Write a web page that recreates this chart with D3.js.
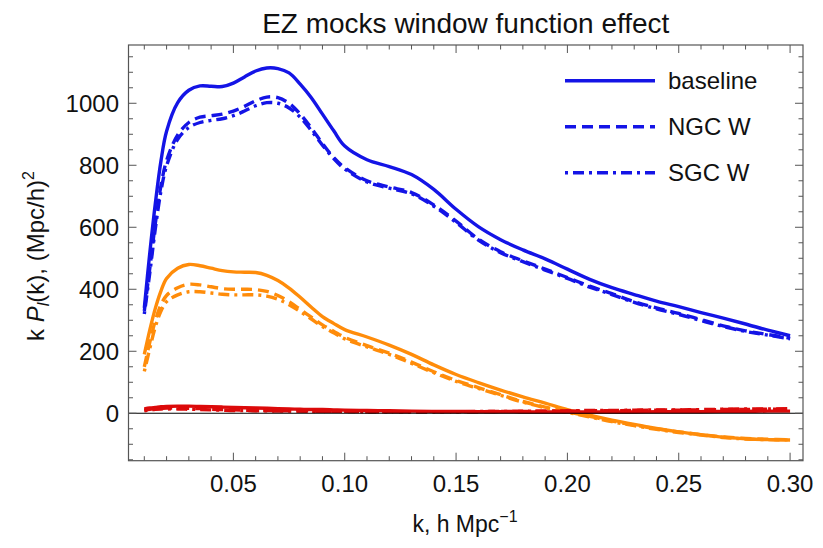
<!DOCTYPE html>
<html>
<head>
<meta charset="utf-8">
<script src="https://cdn.jsdelivr.net/npm/d3@7"></script>
<style>
  html, body { margin: 0; padding: 0; background: #fff; }
  svg { display: block; font-family: "Liberation Sans", Arial, sans-serif; }
</style>
</head>
<body>
<svg id="chart" width="823" height="548"></svg>
<script>
// Wavenumber grid, h/Mpc
const kValues = [0.01, 0.0125, 0.015, 0.0175, 0.02, 0.025, 0.03, 0.035, 0.04, 0.045,
  0.05, 0.055, 0.06, 0.065, 0.07, 0.075, 0.08, 0.085, 0.09, 0.095,
  0.10, 0.11, 0.12, 0.13, 0.14, 0.15, 0.16, 0.17, 0.18, 0.19,
  0.20, 0.21, 0.22, 0.23, 0.24, 0.25, 0.26, 0.27, 0.28, 0.29, 0.30];

// Monopole k P_0(k)
const monoBaseline = [340, 520, 680, 815, 910, 1002, 1042, 1056, 1055, 1054,
  1065, 1085, 1104, 1114, 1112, 1098, 1062, 1018, 965, 912,
  862, 818, 796, 770, 722, 658, 602, 560, 527, 498,
  465, 432, 405, 383, 362, 344, 325, 307, 288, 268, 250];
const monoNGC = [330, 470, 615, 735, 815, 898, 938, 955, 960, 965,
  975, 990, 1008, 1020, 1018, 1000, 965, 920, 870, 825,
  792, 750, 730, 712, 672, 620, 562, 521, 492, 465,
  438, 410, 386, 360, 340, 322, 302, 282, 266, 254, 242];
const monoSGC = [320, 455, 598, 718, 798, 884, 922, 938, 945, 950,
  960, 975, 992, 1002, 1000, 985, 955, 912, 865, 822,
  788, 746, 726, 708, 668, 616, 559, 518, 489, 462,
  435, 407, 383, 358, 337, 319, 299, 280, 264, 252, 240];

// Quadrupole k P_2(k)
const quadBaseline = [190, 270, 340, 395, 435, 468, 480, 476, 468, 460,
  456, 455, 454, 445, 428, 404, 374, 342, 312, 290,
  270, 246, 220, 190, 156, 125, 99, 75, 53, 33,
  12, -6, -22, -36, -49, -60, -69, -77, -82, -85, -86];
const quadNGC = [150, 230, 300, 350, 380, 405, 416, 414, 408, 402,
  400, 400, 399, 393, 380, 360, 335, 310, 285, 265,
  245, 218, 194, 165, 134, 106, 83, 60, 38, 20,
  5, -10, -25, -38, -50, -60, -69, -76, -81, -84, -85];
const quadSGC = [135, 210, 280, 330, 360, 382, 392, 392, 388, 384,
  382, 382, 382, 378, 368, 350, 328, 304, 280, 260,
  240, 214, 190, 161, 131, 103, 80, 58, 36, 18,
  3, -12, -27, -40, -52, -62, -70, -78, -83, -85, -86];

// Hexadecapole k P_4(k)
const hexBaseline = [14, 17, 19, 21, 22, 23, 23, 22, 21, 20,
  19, 18, 17, 16, 15, 14, 13, 12, 12, 11,
  10, 9, 8, 7, 6, 6, 5, 5, 4, 4,
  4, 4, 4, 4, 5, 5, 5, 6, 6, 7, 7];
const hexNGC = [10, 13, 15, 16, 17, 17, 16, 15, 13, 12,
  11, 10, 9, 9, 8, 8, 7, 7, 6, 6,
  6, 5, 5, 5, 5, 5, 5, 6, 6, 7,
  7, 8, 8, 9, 10, 10, 11, 12, 12, 13, 13];
const hexSGC = [8, 11, 13, 14, 14, 14, 13, 12, 11, 10,
  9, 9, 8, 8, 7, 7, 7, 6, 6, 6,
  6, 5, 5, 5, 5, 5, 6, 6, 7, 7,
  8, 9, 9, 10, 11, 11, 12, 13, 14, 14, 15];

const xTickValues = [0.05, 0.10, 0.15, 0.20, 0.25, 0.30];
const xTickLabels = ["0.05", "0.10", "0.15", "0.20", "0.25", "0.30"];
const yTickValues = [0, 200, 400, 600, 800, 1000];
const legendLabels = ["baseline", "NGC W", "SGC W"];

const colors = { mono: "#1414e6", quad: "#ff8c0a", hex: "#dc0a0a" };
const dashes = { baseline: null, ngc: "11,6", sgc: "3,5,11,5" };

const svg = d3.select("#chart");
const plot = { left: 128.5, right: 803, top: 45, bottom: 460.7 };

const x = d3.scaleLinear().domain([0.0029, 0.3058]).range([plot.left, plot.right]);
const y = d3.scaleLinear().domain([-153, 1188]).range([plot.bottom, plot.top]);

svg.append("defs").append("clipPath").attr("id", "clip")
  .append("rect")
  .attr("x", plot.left).attr("y", plot.top)
  .attr("width", plot.right - plot.left).attr("height", plot.bottom - plot.top);

// Title
svg.append("text")
  .attr("x", (plot.left + plot.right) / 2).attr("y", 33)
  .attr("text-anchor", "middle")
  .attr("font-size", 28)
  .attr("fill", "#111")
  .text("EZ mocks window function effect");

// Curves
const line = d3.line()
  .x((d, i) => x(kValues[i]))
  .y(d => y(d))
  .curve(d3.curveCatmullRom.alpha(0.5));

const series = [
  { v: monoBaseline, c: colors.mono, d: dashes.baseline },
  { v: monoNGC, c: colors.mono, d: dashes.ngc },
  { v: monoSGC, c: colors.mono, d: dashes.sgc },
  { v: quadBaseline, c: colors.quad, d: dashes.baseline },
  { v: quadNGC, c: colors.quad, d: dashes.ngc },
  { v: quadSGC, c: colors.quad, d: dashes.sgc },
  { v: hexBaseline, c: colors.hex, d: dashes.baseline },
  { v: hexNGC, c: colors.hex, d: dashes.ngc },
  { v: hexSGC, c: colors.hex, d: dashes.sgc }
];

const curves = svg.append("g").attr("clip-path", "url(#clip)");
series.forEach(s => {
  curves.append("path")
    .attr("d", line(s.v))
    .attr("fill", "none")
    .attr("stroke", s.c)
    .attr("stroke-width", 3.4)
    .attr("stroke-linejoin", "round")
    .attr("stroke-dasharray", s.d);
});

// Zero axis
svg.append("line")
  .attr("x1", plot.left).attr("x2", plot.right)
  .attr("y1", y(0)).attr("y2", y(0))
  .attr("stroke", "#000").attr("stroke-width", 1.2);

// Frame ticks (inward on all four sides)
const frameColor = "#555";
const xMinor = d3.range(1, 31).map(i => i / 100);
const yMinor = d3.range(-150, 1151, 50);
const ticks = svg.append("g").attr("stroke", frameColor).attr("stroke-width", 1);
xMinor.forEach(v => {
  const major = xTickValues.some(t => Math.abs(t - v) < 1e-9);
  const len = major ? 8 : 4.5;
  ticks.append("line").attr("x1", x(v)).attr("x2", x(v))
    .attr("y1", plot.bottom).attr("y2", plot.bottom - len);
  ticks.append("line").attr("x1", x(v)).attr("x2", x(v))
    .attr("y1", plot.top).attr("y2", plot.top + len);
});
yMinor.forEach(v => {
  const major = v % 200 === 0;
  const len = major ? 8 : 4.5;
  ticks.append("line").attr("x1", plot.left).attr("x2", plot.left + len)
    .attr("y1", y(v)).attr("y2", y(v));
  ticks.append("line").attr("x1", plot.right).attr("x2", plot.right - len)
    .attr("y1", y(v)).attr("y2", y(v));
});

// Frame
svg.append("rect")
  .attr("x", plot.left).attr("y", plot.top)
  .attr("width", plot.right - plot.left).attr("height", plot.bottom - plot.top)
  .attr("fill", "none").attr("stroke", frameColor).attr("stroke-width", 1.2);

// Tick labels
svg.append("g").selectAll("text").data(xTickValues).join("text")
  .attr("x", d => x(d)).attr("y", 492)
  .attr("text-anchor", "middle").attr("font-size", 24).attr("fill", "#111")
  .text((d, i) => xTickLabels[i]);
svg.append("g").selectAll("text").data(yTickValues).join("text")
  .attr("x", 119).attr("y", d => y(d)).attr("dy", "0.36em")
  .attr("text-anchor", "end").attr("font-size", 24).attr("fill", "#111")
  .text(d => d3.format("d")(d));

// Axis labels
const xl = svg.append("text")
  .attr("x", 465).attr("y", 532)
  .attr("text-anchor", "middle").attr("font-size", 23).attr("fill", "#111");
xl.append("tspan").text("k, h Mpc");
xl.append("tspan").attr("dy", -10).attr("font-size", 16).text("\u22121");

const yl = svg.append("text")
  .attr("transform", "translate(44,256) rotate(-90)")
  .attr("text-anchor", "middle").attr("font-size", 24).attr("fill", "#111");
yl.append("tspan").text("k ");
yl.append("tspan").attr("font-style", "italic").text("P");
yl.append("tspan").attr("font-style", "italic").attr("font-size", 16).attr("dy", 5).text("l");
yl.append("tspan").attr("dy", -5).text("(k), (Mpc/h)");
yl.append("tspan").attr("font-size", 16).attr("dy", -10).text("2");

// Legend
const legend = svg.append("g");
legendLabels.forEach((lab, i) => {
  const ly = 80.7 + i * 46;
  legend.append("line")
    .attr("x1", 565).attr("x2", 655).attr("y1", ly).attr("y2", ly)
    .attr("stroke", colors.mono).attr("stroke-width", 3.4)
    .attr("stroke-dasharray", [dashes.baseline, dashes.ngc, dashes.sgc][i]);
  legend.append("text")
    .attr("x", 668).attr("y", ly).attr("dy", "0.36em")
    .attr("font-size", 24).attr("fill", "#111")
    .text(lab);
});
</script>
</body>
</html>
